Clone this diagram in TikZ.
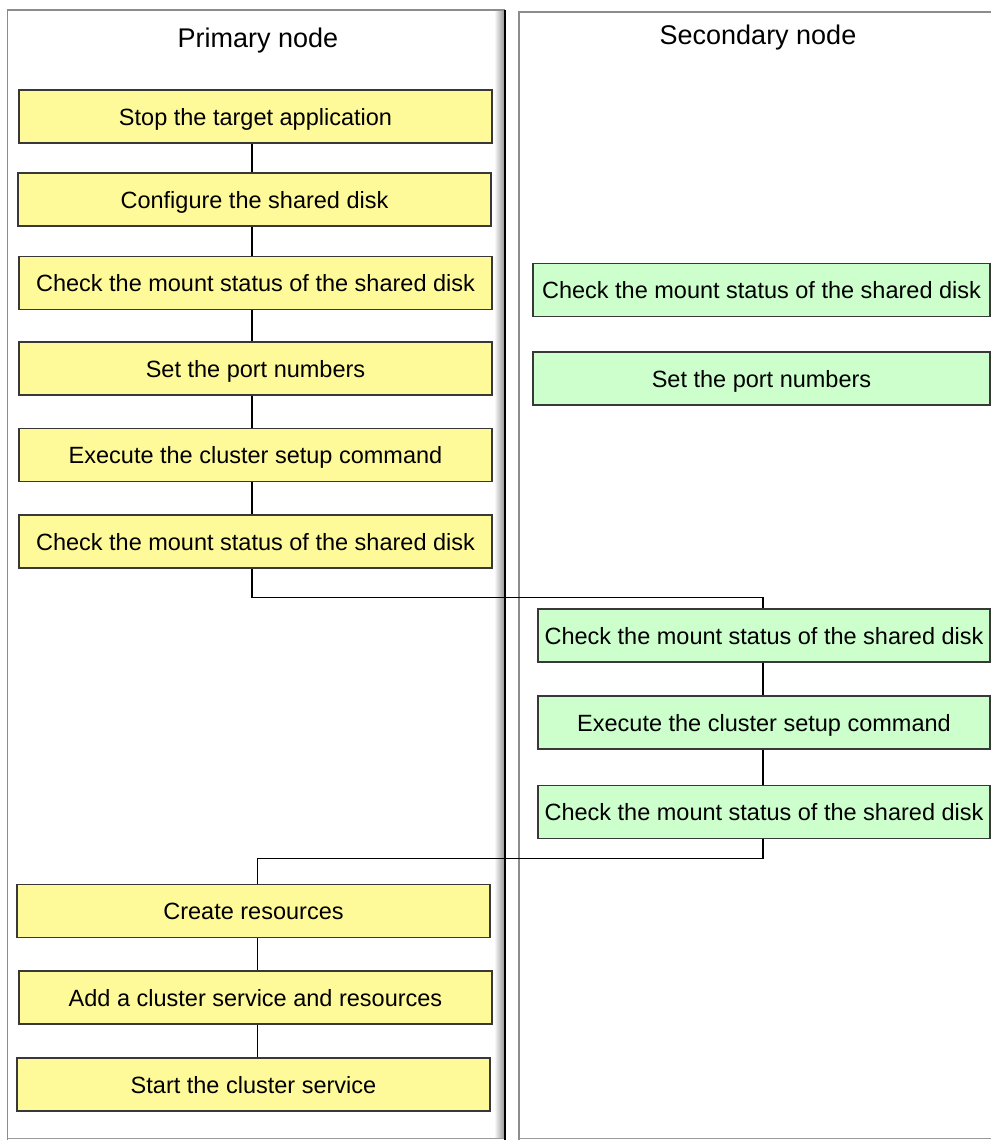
\documentclass[tikz,border=0pt]{standalone}
\usepackage{fontspec}
\setmainfont{Liberation Sans}
\begin{document}
\begin{tikzpicture}[x=1pt,y=-1pt,
  stepbox/.style={draw=black!78, line width=1.5pt, minimum height=53pt, inner sep=0pt,
    text height=17pt, text depth=0pt,
    font=\fontsize{23.5}{28}\selectfont},
  ybox/.style={stepbox, fill=yellow!40!white, minimum width=473pt},
  gbox/.style={stepbox, fill=green!20!white, minimum width=455pt},
  lanetitle/.style={font=\fontsize{27}{32}\selectfont, inner sep=0pt, text height=19.5pt, text depth=0pt},
  conn/.style={draw=black, line width=1.3pt}]
\useasboundingbox (0,0) rectangle (991,1140);
% lanes
\shade[left color=white, right color=black!40] (494,11) rectangle (504,1138);
\draw[black!45, line width=1.5pt] (505,10) -- (7.5,10) -- (7.5,1140);
\draw[black!40, line width=1.2pt] (7.5,1138.5) -- (505,1138.5);
\draw[black, line width=2pt] (505,10) -- (505,1140);
\draw[black!45, line width=1.5pt] (991,12) -- (519,12) -- (519,1140);
\draw[black!40, line width=1.2pt] (519,1138.5) -- (991,1138.5);
\node[lanetitle] (pt) at (258,38) {Primary node};
\node[lanetitle] (st) at (758,35) {Secondary node};
% primary boxes
\node[ybox] (y1) at (255.5,116.5) {Stop the target application};
\node[ybox] (y2) at (254.5,199.5) {Configure the shared disk};
\node[ybox] (y3) at (255.5,283) {Check the mount status of the shared disk};
\node[ybox] (y4) at (255.5,368.5) {Set the port numbers};
\node[ybox] (y5) at (255.5,455) {Execute the cluster setup command};
\node[ybox] (y6) at (255.5,541.5) {Check the mount status of the shared disk};
\node[ybox] (y7) at (253.5,911) {Create resources};
\node[ybox] (y8) at (255.5,997.5) {Add a cluster service and resources};
\node[ybox] (y9) at (253.5,1084.5) {Start the cluster service};
% secondary boxes
\node[gbox, minimum width=457pt] (g1) at (761.5,290) {Check the mount status of the shared disk};
\node[gbox, minimum width=457pt] (g2) at (761.5,378.5) {Set the port numbers};
\node[gbox, minimum width=452pt] (g3) at (764,635.5) {Check the mount status of the shared disk};
\node[gbox, minimum width=452pt] (g4) at (764,722.5) {Execute the cluster setup command};
\node[gbox, minimum width=452pt] (g5) at (764,812) {Check the mount status of the shared disk};
% connectors
\coordinate (cx1) at (252,0);
\coordinate (cx2) at (257.5,0);
\coordinate (cx3) at (763,0);
\draw[conn] (y1.south -| cx1) -- (y2.north -| cx1);
\draw[conn] (y2.south -| cx1) -- (y3.north -| cx1);
\draw[conn] (y3.south -| cx1) -- (y4.north -| cx1);
\draw[conn] (y4.south -| cx1) -- (y5.north -| cx1);
\draw[conn] (y5.south -| cx1) -- (y6.north -| cx1);
\coordinate (b1) at (252,597.5);
\draw[conn] (y6.south -| cx1) -- (b1) -- (b1 -| cx3) -- (g3.north -| cx3);
\draw[conn] (g3.south -| cx3) -- (g4.north -| cx3);
\draw[conn] (g4.south -| cx3) -- (g5.north -| cx3);
\coordinate (b2) at (763,858.5);
\draw[conn] (g5.south -| cx3) -- (b2) -- (b2 -| cx2) -- (y7.north -| cx2);
\draw[conn] (y7.south -| cx2) -- (y8.north -| cx2);
\draw[conn] (y8.south -| cx2) -- (y9.north -| cx2);
\end{tikzpicture}
\end{document}
